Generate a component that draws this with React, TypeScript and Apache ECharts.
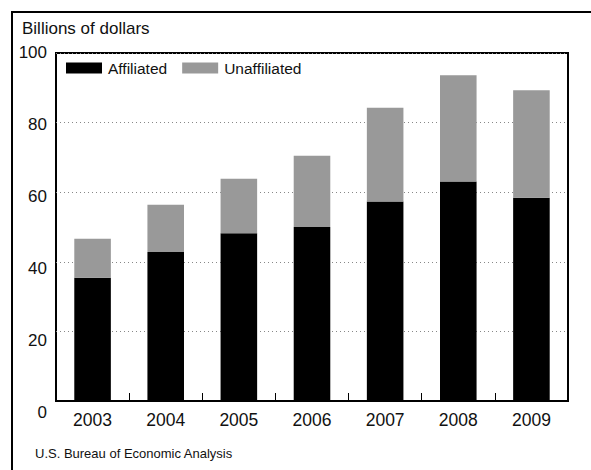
import React, { useEffect, useRef } from "react";
import * as echarts from "echarts";

const years = ["2003", "2004", "2005", "2006", "2007", "2008", "2009"];
const affiliated = [35.4, 42.8, 48.2, 50.0, 57.3, 63.1, 58.4];
const unaffiliated = [11.2, 13.6, 15.7, 20.5, 27.0, 30.5, 30.9];
const yTicks = [0, 20, 40, 60, 80, 100];

const FONT = "'Liberation Sans', Arial, Helvetica, sans-serif";

export default function App() {
  const ref = useRef<HTMLDivElement>(null);
  useEffect(() => {
    if (!ref.current) return;
    const chart = echarts.init(ref.current, null, { renderer: "svg" });
    chart.setOption({
      animation: false,
      backgroundColor: "#fff",
      textStyle: { fontFamily: FONT, color: "#111" },
      legend: {
        left: 61,
        top: 55,
        itemWidth: 36,
        itemHeight: 11,
        itemGap: 15,
        icon: "rect",
        textStyle: { fontFamily: FONT, fontSize: 15.5, color: "#111", padding: [0, 0, 0, 1] },
        data: ["Affiliated", "Unaffiliated"],
      },
      grid: [
        {
          left: 56,
          top: 53,
          right: 23,
          bottom: 69,
          show: true,
          borderColor: "#000",
          borderWidth: 2,
          backgroundColor: "transparent",
        },
        { left: 56, top: 52, right: 23, bottom: 58 },
      ],
      xAxis: [
        {
          type: "category",
          gridIndex: 0,
          data: years,
          axisLine: { show: true, lineStyle: { color: "#000", width: 2 } },
          axisTick: { show: true, inside: true, length: 8, lineStyle: { color: "#000", width: 1 } },
          axisLabel: { fontFamily: FONT, fontSize: 17.5, color: "#111", margin: 10 },
          splitLine: { show: false },
        },
        { type: "value", gridIndex: 1, show: false, min: 0, max: 1 },
      ],
      yAxis: [
        {
          type: "value",
          gridIndex: 0,
          min: 0,
          max: 100,
          interval: 20,
          axisLine: { show: false },
          axisTick: { show: false },
          axisLabel: { show: false },
          splitLine: { show: true, lineStyle: { color: "#888", type: [1, 3], width: 1 } },
        },
        {
          type: "value",
          gridIndex: 1,
          min: yTicks[0],
          max: yTicks[yTicks.length - 1],
          interval: 20,
          axisLine: { show: false },
          axisTick: { show: false },
          splitLine: { show: false },
          axisLabel: { fontFamily: FONT, fontSize: 17, color: "#111", margin: 9 },
        },
      ],
      series: [
        {
          name: "Affiliated",
          type: "bar",
          stack: "total",
          xAxisIndex: 0,
          yAxisIndex: 0,
          barWidth: "50%",
          itemStyle: { color: "#000" },
          data: affiliated,
        },
        {
          name: "Unaffiliated",
          type: "bar",
          stack: "total",
          xAxisIndex: 0,
          yAxisIndex: 0,
          barWidth: "50%",
          itemStyle: { color: "#999999" },
          data: unaffiliated,
        },
      ],
      graphic: [
        {
          type: "rect",
          shape: { x: 12, y: 12, width: 700, height: 600 },
          style: { fill: "none", stroke: "#000", lineWidth: 2 },
          silent: true,
          z: -1,
        },
        {
          type: "text",
          x: 22,
          y: 28,
          style: {
            text: "Billions of dollars",
            fontFamily: FONT,
            fontSize: 17,
            fill: "#111",
            verticalAlign: "middle",
          },
        },
        {
          type: "text",
          x: 35,
          y: 453,
          style: {
            text: "U.S. Bureau of Economic Analysis",
            fontFamily: FONT,
            fontSize: 13,
            fill: "#111",
            verticalAlign: "middle",
          },
        },
      ],
    });
    return () => chart.dispose();
  }, []);
  return (
    <div
      ref={ref}
      style={{ position: "fixed", left: 0, top: 0, width: 591, height: 470 }}
    />
  );
}
